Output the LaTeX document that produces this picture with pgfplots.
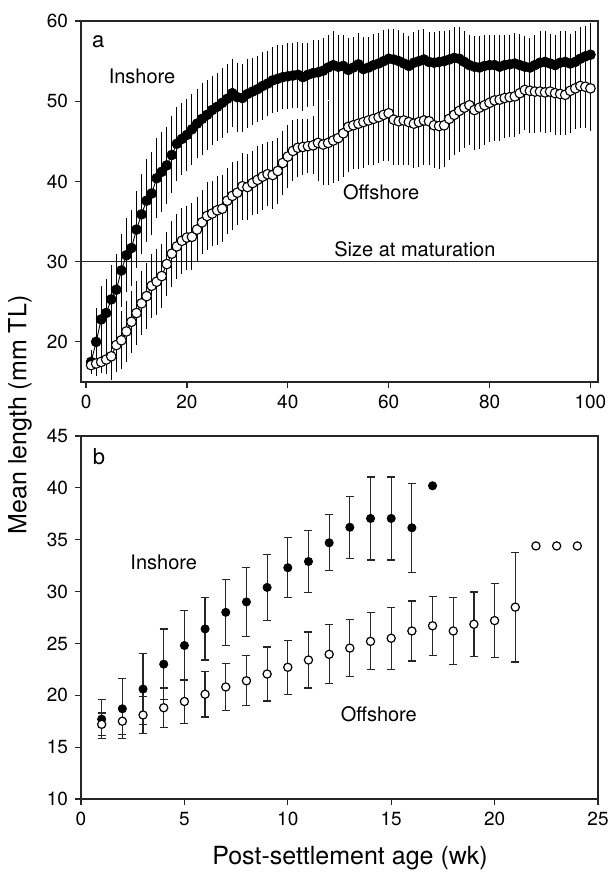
\documentclass[border=0pt]{standalone}
\usepackage{pgfplots}
\pgfplotsset{compat=1.18}
\usepackage{pgfplotstable}
\usepackage{fontspec}
\setmainfont{TeX Gyre Heros}

% panel a: weekly means, inshore and offshore, with SD
\pgfplotstableread{
x in ine off offe
1 17.5 1.5 17.1 0.8
2 20.0 4.2 17.3 1.2
3 22.8 4.2 17.5 1.4
4 23.6 4.3 17.8 1.8
5 25.3 4.3 18.2 3.0
6 26.5 4.4 19.6 3.4
7 28.9 4.5 20.2 3.6
8 30.8 4.6 21.3 3.8
9 31.7 4.7 22.5 3.9
10 34.0 4.8 23.6 4.0
11 35.9 5.0 24.8 4.0
12 37.6 5.2 25.7 4.1
13 38.5 5.2 27.0 4.0
14 40.4 5.0 27.5 4.1
15 41.2 5.0 28.2 4.0
16 42.0 4.8 29.7 4.0
17 43.3 4.8 31.0 4.1
18 44.7 4.6 31.9 4.0
19 45.3 4.5 32.6 4.1
20 45.8 4.5 33.0 4.0
21 46.5 4.4 33.1 4.2
22 47.2 4.3 34.0 4.1
23 47.8 4.5 34.9 4.0
24 48.3 4.4 35.7 4.2
25 48.9 4.3 36.0 4.1
26 49.3 4.2 36.4 4.3
27 49.8 4.4 36.6 4.2
28 50.3 4.3 37.6 4.1
29 51.0 4.2 38.2 4.2
30 50.5 4.3 38.6 4.0
31 50.4 4.2 39.4 4.2
32 50.9 4.3 39.3 4.1
33 51.2 4.2 39.8 4.0
34 51.5 4.1 40.2 4.2
35 51.9 4.2 40.6 4.1
36 52.2 4.0 40.9 4.0
37 52.6 4.1 40.8 4.2
38 52.8 4.2 41.3 4.1
39 53.0 4.0 42.3 4.0
40 53.1 4.1 43.1 3.9
41 53.2 4.0 43.8 3.8
42 53.3 4.1 44.2 3.6
43 53.0 4.2 44.3 3.5
44 53.3 4.0 44.4 3.4
45 53.5 4.1 44.5 3.6
46 53.6 4.0 44.8 4.8
47 53.8 4.1 44.6 5.0
48 54.2 4.0 44.8 5.2
49 54.5 4.2 45.1 5.3
50 54.3 4.0 45.4 5.4
51 54.4 3.9 46.0 5.5
52 53.9 4.0 46.8 5.6
53 54.2 3.8 47.0 5.5
54 54.6 3.9 47.2 5.6
55 54.0 4.0 47.4 5.7
56 54.2 3.8 47.6 5.6
57 54.5 3.9 47.8 5.8
58 54.7 3.8 48.0 5.7
59 55.0 3.9 48.3 5.8
60 55.3 3.7 48.5 5.9
61 55.2 3.8 47.7 5.6
62 55.0 3.9 47.5 5.5
63 54.7 3.8 47.6 5.6
64 54.4 3.7 47.4 5.4
65 54.8 3.8 47.2 5.5
66 55.0 3.9 47.4 5.6
67 55.2 3.8 47.6 5.5
68 54.9 3.7 47.5 5.4
69 54.8 3.8 47.0 5.3
70 54.9 3.9 46.9 5.4
71 55.0 3.8 47.0 5.2
72 55.2 3.7 47.8 5.1
73 55.4 3.8 48.3 5.0
74 55.3 3.9 48.8 5.1
75 54.9 3.8 49.2 5.0
76 54.5 3.7 49.5 4.9
77 54.3 3.8 48.9 5.0
78 54.2 3.9 49.2 5.1
79 54.4 3.8 49.5 5.0
80 54.5 3.7 49.8 4.9
81 54.5 3.8 50.1 5.0
82 54.3 3.9 50.2 5.1
83 54.5 3.8 50.4 5.0
84 54.6 3.7 50.5 4.9
85 54.7 3.8 50.6 5.0
86 54.5 3.9 51.0 5.1
87 54.3 3.8 51.4 5.0
88 54.2 3.7 51.3 5.2
89 54.5 3.8 51.2 5.1
90 54.8 3.9 51.2 5.0
91 54.9 3.8 51.1 5.1
92 54.7 3.7 51.2 5.0
93 54.5 3.8 51.0 5.2
94 54.8 3.9 50.9 5.1
95 54.9 3.8 50.8 5.0
96 54.7 3.7 51.3 5.2
97 54.9 3.8 51.6 5.1
98 55.3 3.9 51.9 5.3
99 55.6 3.8 51.8 5.2
100 55.8 3.9 51.6 5.3
}\weekly

% panel b
\pgfplotstableread{
x y e
1 17.7 1.9
2 18.7 2.9
3 20.6 3.4
4 23.0 3.4
5 24.8 3.4
6 26.4 3.0
7 28.0 3.2
8 29.0 3.3
9 30.4 3.2
10 32.3 2.9
11 32.9 3.0
12 34.7 2.7
13 36.2 3.0
14 37.05 4.0
15 37.05 4.0
16 36.15 4.3
}\inshoreb

\pgfplotstableread{
x y e
1 17.2 1.1
2 17.5 1.3
3 18.1 1.75
4 18.8 1.9
5 19.4 2.1
6 20.1 2.2
7 20.8 2.3
8 21.4 2.4
9 22.05 2.6
10 22.7 2.6
11 23.4 2.7
12 23.95 2.85
13 24.55 2.75
14 25.2 2.75
15 25.5 3.0
16 26.2 2.9
17 26.7 2.85
18 26.2 3.2
19 26.85 3.1
20 27.2 3.55
21 28.5 5.3
}\offshoreb

\begin{document}
\begin{tikzpicture}
\pgfplotsset{
  panel/.style={
    scale only axis, width=258.5pt,
    tick align=outside, xtick pos=left, ytick pos=left,
    major tick length=3pt,
    axis line style={black!85, line width=0.6pt},
    every tick/.style={black!85, line width=0.6pt},
    tick label style={font=\fontsize{9.5}{11}\selectfont},
    /pgf/number format/assume math mode=true,
  },
}
\tikzset{txt/.style={font=\fontsize{10}{12}\selectfont, inner sep=0pt}}

% ---- panel a ----
\begin{axis}[panel, at={(0pt,208.5pt)}, height=180.5pt,
    xmin=-1, xmax=101.5, ymin=15, ymax=60,
    xtick={0,20,...,100}, ytick={20,30,...,60}]
  \addplot[black!85, line width=0.6pt] coordinates {(-1,30) (101.5,30)};
  \addplot[black, line width=0.45pt, mark=*, mark size=2.45pt,
    mark options={fill=black, line width=0.4pt},
    error bars/.cd, y dir=both, y explicit, error mark=none,
    error bar style={line width=0.5pt, black}]
    table[x=x, y=in, y error=ine] {\weekly};
  \addplot[black, line width=0.45pt, mark=*, mark size=2.4pt,
    mark options={fill=white, line width=0.55pt},
    error bars/.cd, y dir=both, y explicit, error mark=none,
    error bar style={line width=0.5pt, black}]
    table[x=x, y=off, y error=offe] {\weekly};
  \node[font=\fontsize{11}{13}\selectfont, inner sep=0pt] at (axis cs:2.4,57.4) {a};
  \node[txt] at (axis cs:11.1,53.1) {Inshore};
  \node[txt] at (axis cs:58.5,38.7) {Offshore};
  \node[txt, anchor=base] at (axis cs:65.2,30.6) {Size at maturation};
\end{axis}

% ---- panel b ----
\begin{axis}[panel, at={(0pt,0pt)}, height=181.5pt,
    xmin=0, xmax=25, ymin=10, ymax=45,
    xtick={0,5,...,25}, ytick={10,15,...,45}]
  \addplot[only marks, black, mark=*, mark size=2.05pt,
    mark options={fill=black, line width=0.4pt},
    error bars/.cd, y dir=both, y explicit,
    error bar style={line width=0.6pt, black!85},
    error mark options={rotate=90, mark size=2pt, line width=0.6pt, black!85}]
    table[x=x, y=y, y error=e] {\inshoreb};
  \addplot[only marks, black, mark=*, mark size=2.05pt,
    mark options={fill=black, line width=0.4pt}]
    coordinates {(17,40.2)};
  \addplot[only marks, black, mark=*, mark size=2.05pt,
    mark options={fill=white, line width=0.6pt},
    error bars/.cd, y dir=both, y explicit,
    error bar style={line width=0.6pt, black!85},
    error mark options={rotate=90, mark size=2pt, line width=0.6pt, black!85}]
    table[x=x, y=y, y error=e] {\offshoreb};
  \addplot[only marks, black, mark=*, mark size=2.05pt,
    mark options={fill=white, line width=0.6pt}]
    coordinates {(22,34.4) (23,34.4) (24,34.4)};
  \node[font=\fontsize{11}{13}\selectfont, inner sep=0pt] at (axis cs:0.87,43.0) {b};
  \node[txt] at (axis cs:4.0,32.85) {Inshore};
  \node[txt] at (axis cs:14.4,18.2) {Offshore};
\end{axis}

\node[rotate=90, font=\fontsize{12.5}{15}\selectfont] at (-30.5pt,192pt) {Mean length (mm TL)};
\node[font=\fontsize{12.5}{15}\selectfont] at (134.5pt,-29.5pt) {Post-settlement age (wk)};

\pgfresetboundingbox
\path (-40.5pt,-36.5pt) rectangle (266pt,399.5pt);
\end{tikzpicture}
\end{document}
